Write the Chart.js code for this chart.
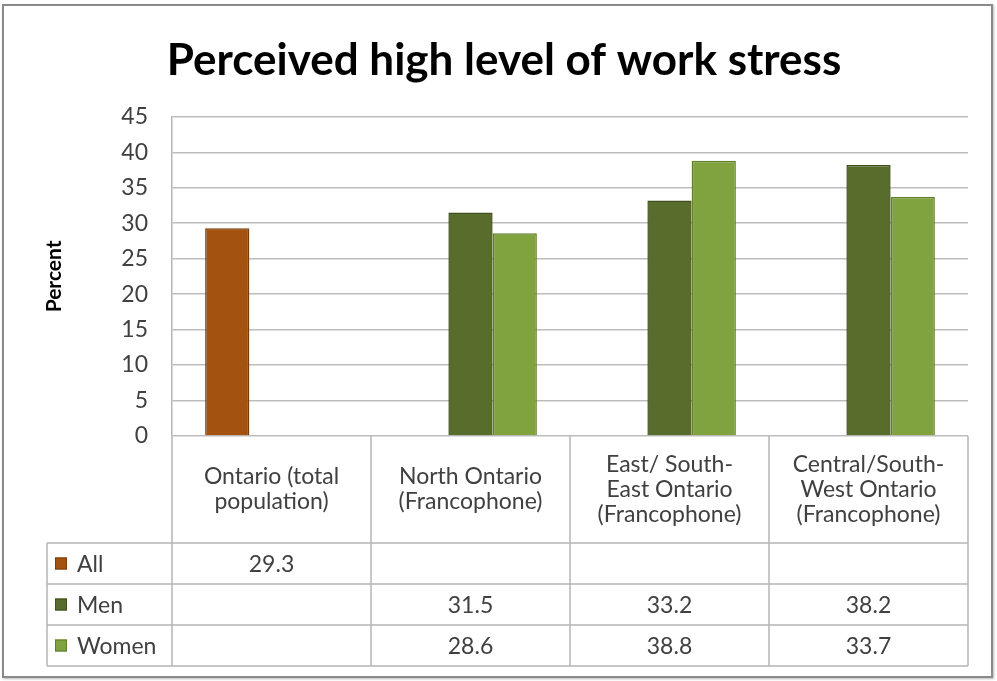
<!DOCTYPE html>
<html>
<head>
<meta charset="utf-8">
<script src="https://cdn.jsdelivr.net/npm/chart.js@4.4.1/dist/chart.umd.min.js"></script>
<style>
  html, body { margin: 0; padding: 0; background: #fff; }
  #wrap { position: relative; width: 997px; height: 681px; }
  #frame { position: absolute; left: 2px; top: 4px; width: 987px; height: 670px;
           border: 2px solid #8a8a8a; box-shadow: 1px 1px 2px #bbb; pointer-events: none; }
  canvas { position: absolute; left: 0; top: 0; }
</style>
</head>
<body>
<div id="wrap">
  <canvas id="stress-chart" width="997" height="681"></canvas>
  <div id="frame"></div>
</div>
<script>
const categories = [
    ["Ontario (total", "population)"],
    ["North Ontario", "(Francophone)"],
    ["East/ South-", "East Ontario", "(Francophone)"],
    ["Central/South-", "West Ontario", "(Francophone)"]
];
const seriesNames = ["All", "Men", "Women"];
const allValues = [29.3, null, null, null];
const menValues = [null, 31.5, 33.2, 38.2];
const womenValues = [null, 28.6, 38.8, 33.7];
const seriesColors = ["#a3520f", "#586d2b", "#80a23f"];
const seriesEdges = ["#7a3c08", "#3f4f1d", "#5f7d2a"];

const textFont = "Lato, 'Liberation Sans', sans-serif";
const textColor = "#404040";
const lineColor = "#b5b5b5";

// draws the data table under the plot, lined up with the category columns
const dataTablePlugin = {
    id: 'dataTable',
    afterDraw(chart) {
        const c = chart.ctx;
        const area = chart.chartArea;
        const colW = (area.right - area.left) / categories.length;
        const legendLeft = 47;
        const headerBottom = 543;
        const rowH = 41;
        const tableBottom = headerBottom + rowH * seriesNames.length;
        const allSeries = [allValues, menValues, womenValues];

        c.save();
        c.strokeStyle = lineColor;
        c.lineWidth = 1.5;
        c.beginPath();
        for (let i = 0; i <= categories.length; i++) {
            const x = area.left + i * colW;
            c.moveTo(x, area.bottom);
            c.lineTo(x, tableBottom);
        }
        for (let r = 0; r <= seriesNames.length; r++) {
            const y = headerBottom + r * rowH;
            c.moveTo(legendLeft, y);
            c.lineTo(area.right, y);
        }
        c.moveTo(legendLeft, headerBottom);
        c.lineTo(legendLeft, tableBottom);
        c.stroke();

        c.fillStyle = textColor;
        c.font = "23px " + textFont;
        c.textAlign = "center";
        c.textBaseline = "middle";
        const headerMid = (area.bottom + headerBottom) / 2;
        categories.forEach((lines, i) => {
            const cx = area.left + (i + 0.5) * colW;
            const lh = 25;
            const y0 = headerMid - (lines.length - 1) * lh / 2;
            lines.forEach((t, k) => c.fillText(t, cx, y0 + k * lh));
        });

        seriesNames.forEach((name, r) => {
            const cy = headerBottom + (r + 0.5) * rowH;
            c.fillStyle = seriesColors[r];
            c.fillRect(55, cy - 6, 12, 12);
            c.strokeStyle = seriesEdges[r];
            c.lineWidth = 1;
            c.strokeRect(55.5, cy - 5.5, 11, 11);
            c.fillStyle = textColor;
            c.textAlign = "left";
            c.fillText(name, 77, cy + 1);
            c.textAlign = "center";
            allSeries[r].forEach((v, i) => {
                if (v === null) return;
                c.fillText(v.toFixed(1), area.left + (i + 0.5) * colW, cy + 1);
            });
        });
        c.restore();
    }
};

const makeSet = (label, data, idx) => ({
    label: label,
    data: data,
    backgroundColor: seriesColors[idx],
    borderColor: seriesEdges[idx],
    borderWidth: 1.5,
    borderSkipped: 'bottom',
    categoryPercentage: 0.667,
    barPercentage: 1.0
});

const chart = new Chart(document.getElementById('stress-chart'), {
    type: 'bar',
    data: {
        labels: categories.map(l => l.join(" ")),
        datasets: [
            makeSet(seriesNames[0], allValues, 0),
            makeSet(seriesNames[1], menValues, 1),
            makeSet(seriesNames[2], womenValues, 2)
        ]
    },
    options: {
        responsive: false,
        animation: false,
        skipNull: false,
        layout: { padding: { left: 40, right: 29, top: 0, bottom: 245 } },
        scales: {
            x: { display: false },
            y: {
                min: 0,
                max: 45,
                ticks: { stepSize: 5, padding: 24, color: textColor, font: { size: 23, family: textFont } },
                grid: { color: "#bdbdbd", lineWidth: 1.5, drawTicks: false },
                border: { color: lineColor, width: 1.5 },
                title: { display: true, text: "Percent", color: "#000", padding: 2,
                         font: { size: 21, weight: 'bold', family: textFont } },
                afterFit(scale) { scale.width = 132; }
            }
        },
        plugins: {
            legend: { display: false },
            tooltip: { enabled: false },
            title: {
                display: true,
                text: "Perceived high level of work stress",
                color: "#000",
                font: { size: 44, weight: 'bold', family: textFont },
                padding: { top: 34, bottom: 30 }
            }
        }
    },
    plugins: [dataTablePlugin]
});
</script>
</body>
</html>
